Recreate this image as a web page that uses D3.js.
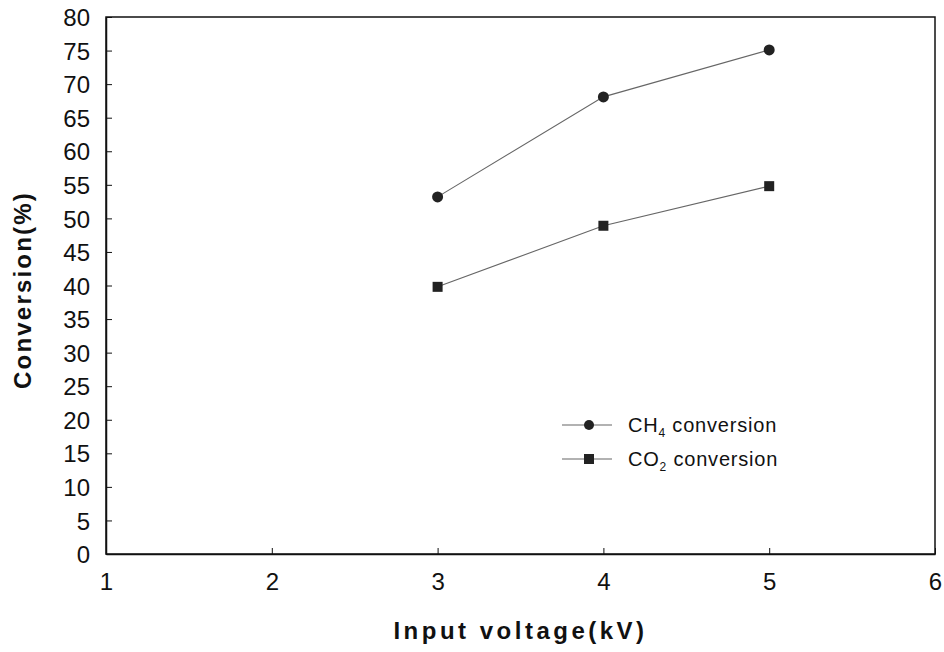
<!DOCTYPE html>
<html>
<head>
<meta charset="utf-8">
<script src="https://cdn.jsdelivr.net/npm/d3@7"></script>
<style>
  body { margin: 0; background: #fff; }
  text { font-family: "Liberation Sans", Arial, sans-serif; fill: #111; }
</style>
</head>
<body>
<div id="chart"></div>
<script>
// data
const voltages = [3, 4, 5];
const ch4Conversion = [53.2, 68.1, 75.1];
const co2Conversion = [39.8, 48.9, 54.8];
const xTicks = [1, 2, 3, 4, 5, 6];
const yTicks = d3.range(0, 81, 5);
const seriesNames = ["CH4", "CO2"];

const W = 944, H = 652;
const margin = { top: 17, right: 9, bottom: 98, left: 106 };
const width = W - margin.left - margin.right;
const height = H - margin.top - margin.bottom;

const svg = d3.select("#chart").append("svg")
    .attr("width", W)
    .attr("height", H);

const g = svg.append("g")
    .attr("transform", "translate(" + margin.left + "," + margin.top + ")");

const x = d3.scaleLinear().domain([1, 6]).range([0, width]);
const y = d3.scaleLinear().domain([0, 80]).range([height, 0]);

// frame
g.append("rect")
    .attr("width", width)
    .attr("height", height)
    .attr("fill", "none")
    .attr("stroke", "#111")
    .attr("stroke-width", 1.5);

// axes with inward ticks
const xAxis = g.append("g")
    .attr("transform", "translate(0," + height + ")")
    .call(d3.axisBottom(x).tickValues(xTicks).tickSizeInner(-6).tickSizeOuter(0).tickPadding(19).tickFormat(d3.format("d")));
const yAxis = g.append("g")
    .call(d3.axisLeft(y).tickValues(yTicks).tickSizeInner(-6).tickSizeOuter(0).tickPadding(16).tickFormat(d3.format("d")));

[xAxis, yAxis].forEach(a => {
    a.select(".domain").attr("stroke", "#111").attr("stroke-width", 1.5);
    a.selectAll(".tick line").attr("stroke", "#111");
    a.selectAll(".tick text").attr("font-size", 24).attr("fill", "#111")
        .style("font-family", "'Liberation Sans', Arial, sans-serif");
});
yAxis.selectAll(".tick text").attr("dy", "0.36em");

// axis titles
svg.append("text")
    .attr("x", margin.left + x(3.5))
    .attr("y", 639)
    .attr("text-anchor", "middle")
    .attr("font-size", 24)
    .attr("font-weight", "bold")
    .attr("letter-spacing", 3.5)
    .text("Input voltage(kV)");

svg.append("text")
    .attr("transform", "translate(31," + 290 + ") rotate(-90)")
    .attr("text-anchor", "middle")
    .attr("font-size", 24)
    .attr("font-weight", "bold")
    .attr("letter-spacing", 2.2)
    .text("Conversion(%)");

const line = d3.line().x(d => x(d[0])).y(d => y(d[1]));
const ch4 = voltages.map((v, i) => [v, ch4Conversion[i]]);
const co2 = voltages.map((v, i) => [v, co2Conversion[i]]);

[ch4, co2].forEach(s => {
    g.append("path")
        .datum(s)
        .attr("d", line)
        .attr("fill", "none")
        .attr("stroke", "#666")
        .attr("stroke-width", 1.1);
});

g.selectAll("circle.ch4").data(ch4).enter()
    .append("circle")
    .attr("class", "ch4")
    .attr("cx", d => x(d[0]))
    .attr("cy", d => y(d[1]))
    .attr("r", 5.5)
    .attr("fill", "#222");

g.selectAll("rect.co2").data(co2).enter()
    .append("rect")
    .attr("class", "co2")
    .attr("x", d => x(d[0]) - 5)
    .attr("y", d => y(d[1]) - 5)
    .attr("width", 10)
    .attr("height", 10)
    .attr("fill", "#222");

// legend
const legend = svg.append("g").attr("transform", "translate(562,425)");
seriesNames.forEach((name, i) => {
    const row = legend.append("g").attr("transform", "translate(0," + (i * 34) + ")");
    row.append("line").attr("x1", 0).attr("x2", 50).attr("y1", 0).attr("y2", 0)
        .attr("stroke", "#666").attr("stroke-width", 1.1);
    if (i === 0) {
        row.append("circle").attr("cx", 27).attr("cy", 0).attr("r", 5).attr("fill", "#222");
    } else {
        row.append("rect").attr("x", 22).attr("y", -5).attr("width", 10).attr("height", 10).attr("fill", "#222");
    }
    const t = row.append("text").attr("x", 66).attr("y", 7).attr("font-size", 20).attr("letter-spacing", 0.8);
    t.append("tspan").text(name.slice(0, 2));
    t.append("tspan").attr("font-size", 12).attr("dy", 5).text(name.slice(2));
    t.append("tspan").attr("dy", -5).text(" conversion");
});
</script>
</body>
</html>
